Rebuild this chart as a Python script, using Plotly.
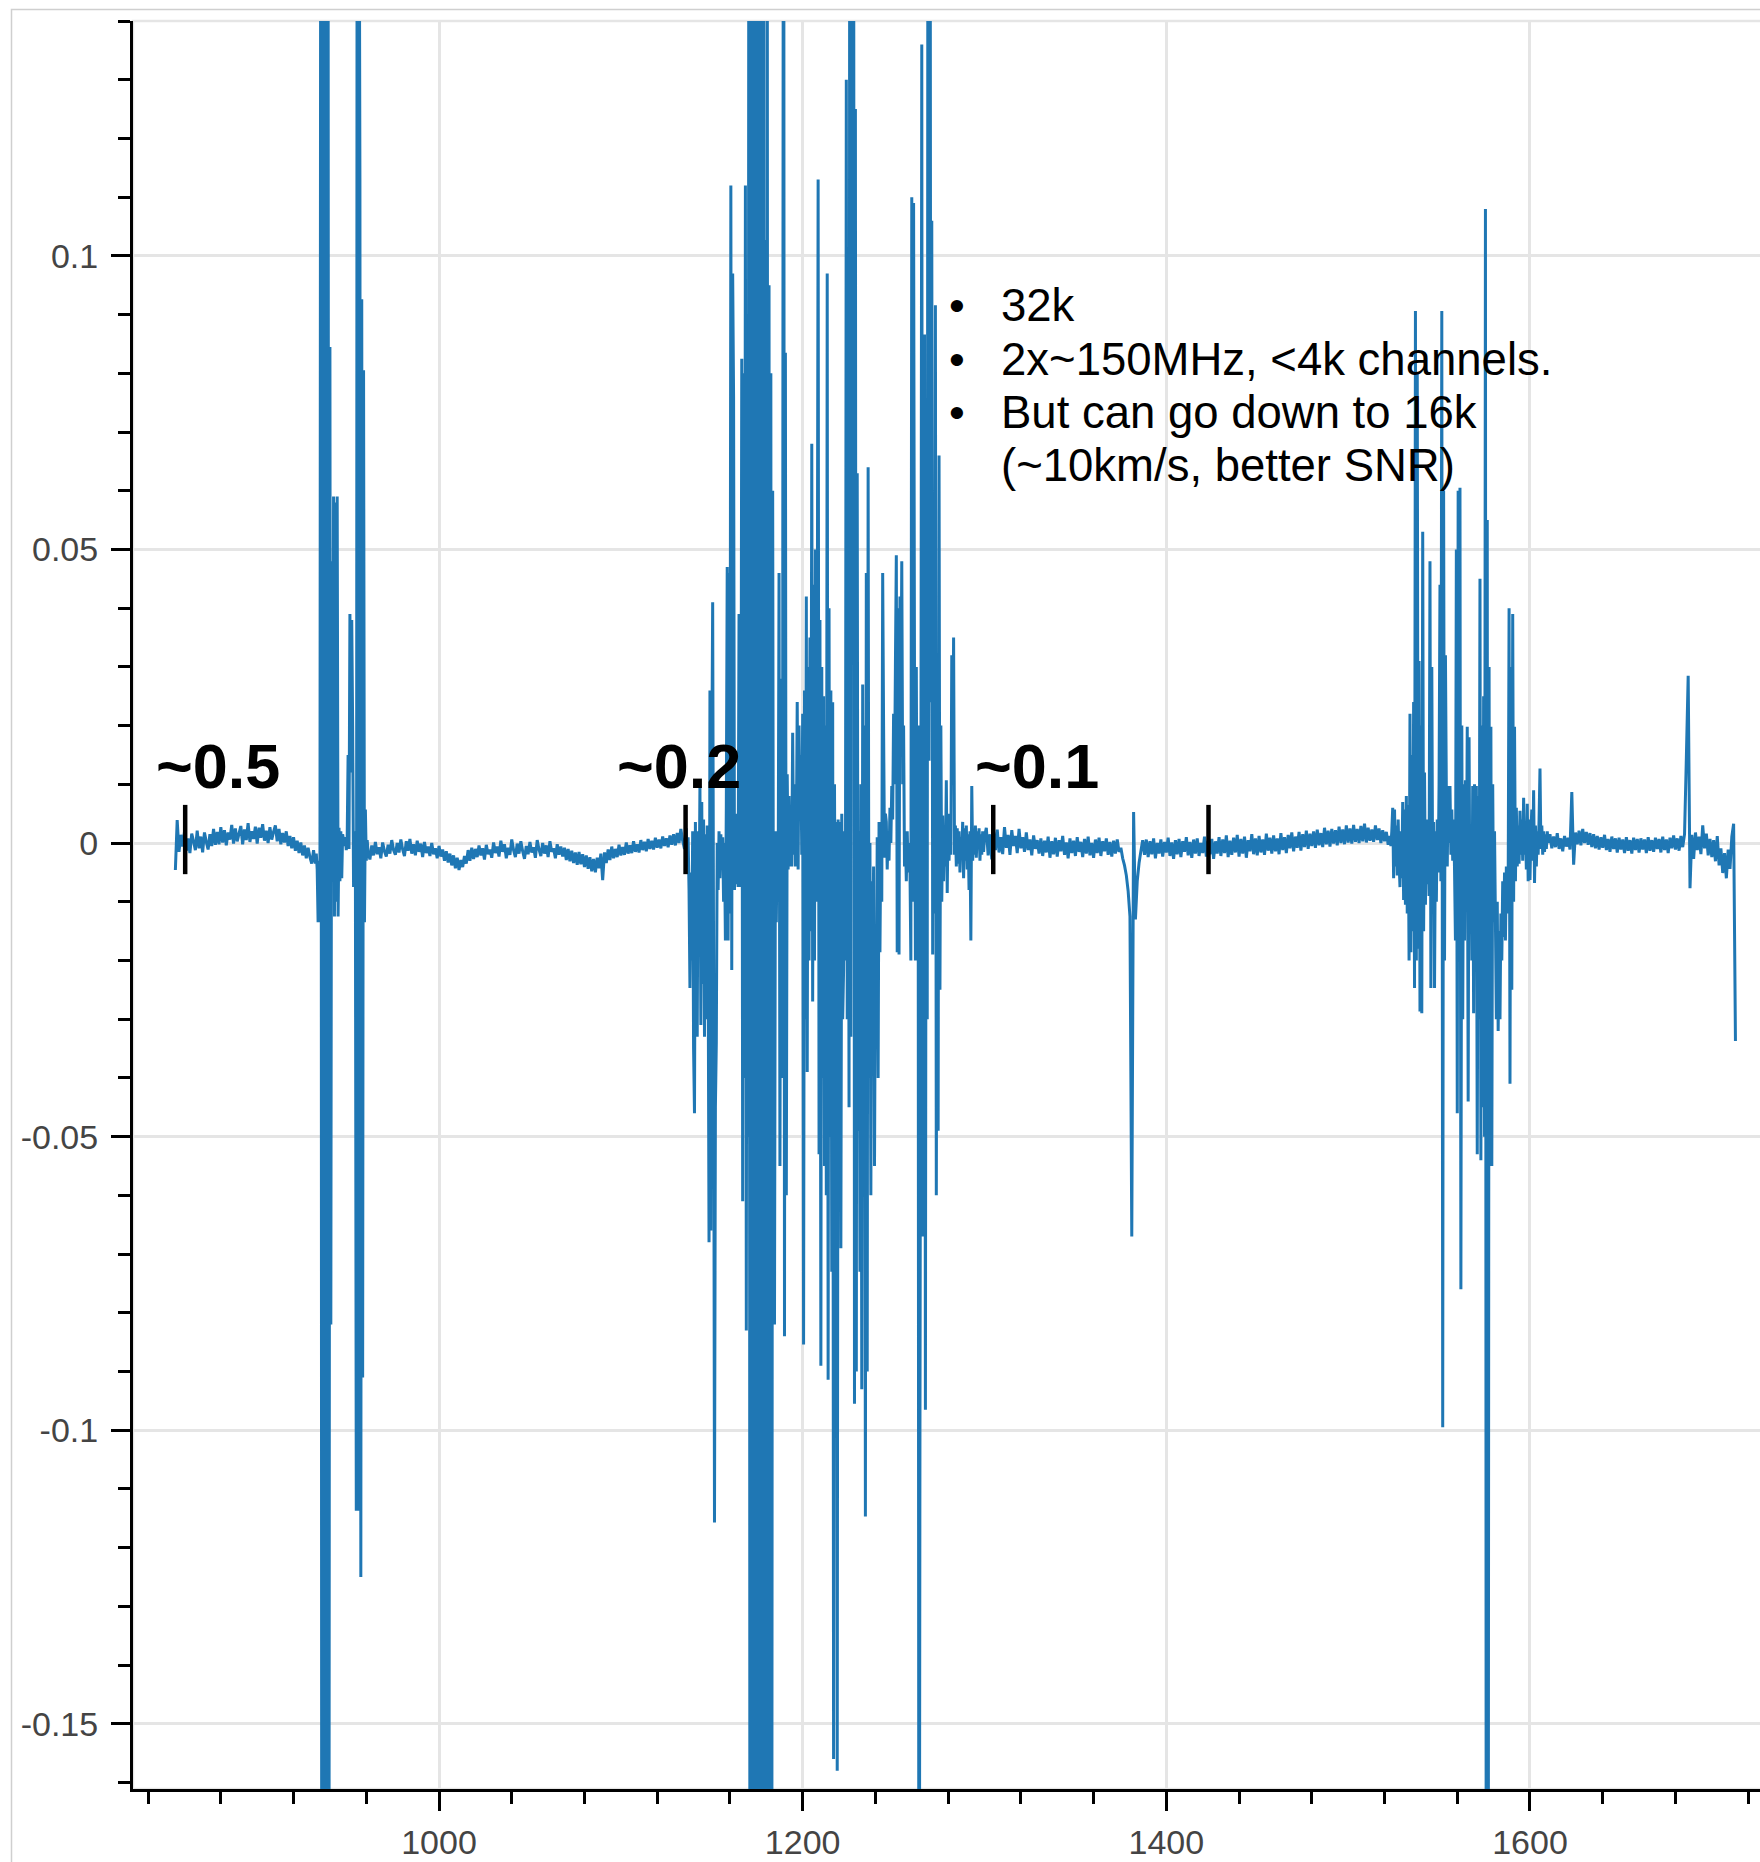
import numpy as np
import plotly.graph_objects as go

# ---------------------------------------------------------------------------
# Spectrum: flux per channel, stored in segments (start channel, channel step)
# ---------------------------------------------------------------------------
seg_a_start, seg_a_step = 855.0, 1.0
flux_a = [
    -0.0046, 0.0039, -0.0015, 0.0014, -0.0006, 0.0019, -0.0013, 0.0008, -0.0017, 0.0016,
    0.0003, -0.0012, 0.0021, -0.0009, 0.0011, -0.0016, 0.0018, 0.0002, -0.0011, 0.0015,
    -0.0005, 0.0024, -0.0003, 0.0019, -0.0002, 0.0027, 0.0001, 0.0022, -0.0004, 0.0018,
    0.0006, 0.0031, -0.0001, 0.0025, 0.0003, 0.0016, 0.0029, -0.0002, 0.0023, 0.0005,
    0.0034, 0.0002, 0.0020, 0.0007, 0.0028, -0.0001, 0.0026, 0.0009, 0.0032, 0.0004,
    0.0021, 0.0000, 0.0027, 0.0006, 0.0019, 0.0030, 0.0003, 0.0024, -0.0002, 0.0017,
    0.0001, 0.0020, -0.0005, 0.0012, -0.0009, 0.0010, -0.0013, 0.0004, -0.0017, 0.0001,
    -0.0021, -0.0004, -0.0026, -0.0008, -0.0024, -0.0035, -0.0012,
]

seg_b_start, seg_b_step = 931.5, 0.5
flux_b = [
    -0.0025, -0.0035, -0.0018, -0.0045, -0.0135, -0.0030, -0.0135, 0.20, -0.20, 0.22,
    -0.21, 0.19, -0.18, 0.20, -0.20, 0.17, -0.19, 0.0845, -0.082, 0.048,
    -0.0065, 0.059, -0.0125, 0.058, -0.010, 0.059, -0.0125, 0.0026, -0.0065, 0.002,
    -0.006, 0.0015, 0.0005, -0.0005, 0.001, -0.0012, 0.0008, 0.015, -0.001, 0.039,
    0.012, 0.038, 0.02, -0.0075, 0.002, -0.001, -0.1137, 0.20, -0.1137, 0.18,
    0.113, -0.125, 0.0926, -0.091, 0.0805, -0.0135, 0.0057, -0.003, 0.0005, -0.0015,
]

seg_c_start, seg_c_step = 962.0, 1.0
flux_c = [
    -0.0028, -0.0004, -0.0021, 0.0002, -0.0019, -0.0007, -0.0026, 0.0001, -0.0014, -0.0023,
    -0.0003, -0.0018, 0.0005, -0.0012, -0.0020, 0.0000, -0.0016, 0.0006, -0.0011, -0.0022,
    0.0003, -0.0013, 0.0007, -0.0018, -0.0002, -0.0021, 0.0004, -0.0015, -0.0001, -0.0024,
    0.0002, -0.0017, -0.0006, -0.0022, 0.0000, -0.0019, -0.0009, -0.0026, -0.0005, -0.0023,
    -0.0011, -0.0030, -0.0014, -0.0033, -0.0018, -0.0038, -0.0021, -0.0043, -0.0025, -0.0046,
    -0.0029, -0.0041, -0.0022, -0.0035, -0.0012, -0.0030, -0.0008, -0.0027, -0.0010, -0.0024,
    -0.0004, -0.0021, -0.0009, -0.0028, -0.0003, -0.0019, -0.0011, -0.0025, 0.0001, -0.0017,
    -0.0006, -0.0023, 0.0004, -0.0015, -0.0002, -0.0026, -0.0008, -0.0020, 0.0006, -0.0012,
    -0.0024, -0.0001, -0.0018, 0.0003, -0.0014, -0.0027, -0.0005, -0.0019, 0.0002, -0.0016,
    -0.0007, -0.0025, 0.0005, -0.0011, -0.0022, 0.0000, -0.0018, -0.0004, -0.0024, 0.0003,
    -0.0015, -0.0009, -0.0026, -0.0002, -0.0020, -0.0006, -0.0023, -0.0008, -0.0029, -0.0010,
    -0.0031, -0.0013, -0.0034, -0.0016, -0.0037, -0.0015, -0.0036, -0.0019, -0.0041, -0.0021,
    -0.0044, -0.0024, -0.0048, -0.0027, -0.0050, -0.0025, -0.0043, -0.0018, -0.0063, -0.0016,
    -0.0034, -0.0011, -0.0029, -0.0006, -0.0026, -0.0010, -0.0024, -0.0003, -0.0021, -0.0007,
    -0.0020, 0.0001, -0.0018, -0.0004, -0.0017, 0.0003, -0.0015, -0.0002, -0.0016, 0.0005,
    -0.0012, 0.0002, -0.0014, 0.0007, -0.0010, 0.0004, -0.0011, 0.0009, -0.0008, 0.0006,
    -0.0009, 0.0011, -0.0005, 0.0008, -0.0007, 0.0013, -0.0003, 0.0015, -0.0004, 0.0017,
    0.0000, 0.0024, 0.0004, -0.0010,
]

seg_d_start, seg_d_step = 1136.0, 0.5
flux_d = [
    0.0025, -0.004, 0.001, -0.008, -0.0247, -0.005, -0.02, 0.002, -0.035, -0.046,
    0.0036, -0.028, -0.033, 0.002, -0.012, 0.0097, -0.031, 0.007, -0.024, 0.004,
    -0.033, 0.0015, -0.030, 0.003, -0.018, -0.068, 0.026, -0.066, 0.012, 0.041,
    -0.02, -0.1157, -0.045, -0.034, 0.0, -0.008, 0.002, -0.006, 0.0015, -0.004,
    0.001, -0.01, 0.0, -0.0166, 0.006, 0.047, -0.0166, 0.046, -0.012, 0.112,
    -0.0216, 0.097, 0.076, -0.008, 0.004, -0.007, 0.005, -0.0075, 0.039, 0.014,
    -0.0075, 0.0825, -0.061, 0.08, -0.04, 0.112, -0.083, 0.09, -0.05, 0.25,
    -0.22, 0.22, -0.25, 0.2, -0.21, 0.24, -0.2, 0.25, -0.23, 0.21,
    -0.24, 0.22, -0.2, 0.23, -0.25, 0.2, -0.2, 0.1027, -0.22, 0.19,
    -0.2, 0.095, -0.24, 0.08, -0.21, 0.06, -0.041, -0.082, 0.002, -0.0135,
    0.0016, -0.01, 0.046, -0.055, 0.028, -0.04, 0.02, 0.25, -0.084, 0.0835,
    -0.06, 0.0117, -0.0045, 0.008, -0.004, 0.002, -0.004, 0.0188, -0.002, 0.01,
    -0.004, 0.0, 0.024, -0.0045, 0.02, 0.004, 0.015, -0.002, 0.022, -0.0854,
    0.026, -0.03, 0.042, -0.039, 0.03, -0.02, 0.035, -0.015, 0.068, -0.027,
    0.044, -0.02, 0.05, -0.01, 0.026, 0.113, -0.053, 0.038, -0.089, 0.03,
    -0.04, 0.025, -0.055, 0.02, -0.06, 0.097, -0.0914, 0.04, -0.05, 0.026,
    -0.073, 0.024, -0.156, 0.01, -0.03, 0.0036, -0.158, 0.004, -0.04, 0.0036,
    -0.069, 0.005, -0.03, -0.0216, 0.002, -0.02, 0.13, -0.03, 0.05, -0.045,
    0.25, -0.033, 0.22, 0.052, 0.2, -0.0955, 0.125, -0.09, 0.063, -0.049,
    0.002, -0.073, 0.01, -0.093, 0.027, -0.05, 0.02, -0.1147, 0.046, -0.09,
    0.064, -0.04, 0.0, -0.06, -0.0065, -0.02, -0.004, -0.055, -0.0186, -0.03,
    0.001, -0.04, 0.0036, -0.0186, 0.002, -0.01, 0.046, 0.02, -0.0025, 0.005,
    0.0036, -0.0045, 0.002, -0.003, 0.006, 0.0, 0.0097, 0.004, 0.022, 0.01,
    0.03, 0.049, -0.0186, 0.04, -0.019, 0.042, 0.02, 0.048, 0.01, 0.02,
    -0.004, 0.001, -0.0065, 0.002, -0.005, 0.0, -0.004, -0.02, 0.11, -0.01,
    0.109, 0.028, -0.02, 0.03, -0.015, 0.02, -0.25, -0.1, 0.0, 0.136,
    -0.067, 0.014, 0.0866, -0.0965, 0.06, -0.03, 0.25, 0.014, 0.22, 0.024,
    0.106, -0.019, 0.05, -0.012, 0.0916, -0.06, 0.03, -0.049, 0.066, -0.025,
    0.02, -0.01, 0.0047, -0.0065, 0.0016, -0.004, 0.0107, -0.0085, 0.005, -0.003,
    0.004, -0.002, 0.032, 0.01, 0.035, -0.002, 0.003, -0.004, 0.0025, -0.0035,
    0.002, -0.005, 0.001, -0.002, 0.0036, -0.006, 0.0025, -0.003, 0.003, -0.0045,
    0.0015, -0.008, 0.002, -0.0166, 0.0097, -0.003, 0.002, -0.002, 0.003, -0.0025,
    0.002, -0.001, 0.0025, -0.003, 0.0015, -0.002, 0.002, -0.0015, 0.001,
]

seg_e_start, seg_e_step = 1301.0, 1.0
flux_e = [
    0.0026, -0.0021, 0.0015, -0.0028, 0.0019, -0.0012, 0.0023, -0.0016, 0.0010, -0.0019,
    0.0027, -0.0008, 0.0014, -0.0020, 0.0022, -0.0005, 0.0012, -0.0017, 0.0024, -0.0009,
    0.0010, -0.0015, 0.0018, -0.0012, 0.0006, -0.0021, 0.0013, -0.0010, 0.0005, -0.0018,
    0.0008, -0.0022, 0.0004, -0.0016, 0.0011, -0.0025, 0.0003, -0.0019, 0.0009, -0.0023,
    0.0005, -0.0014, 0.0012, -0.0020, 0.0001, -0.0026, 0.0008, -0.0017, 0.0004, -0.0022,
    0.0010, -0.0015, 0.0002, -0.0024, 0.0007, -0.0018, 0.0011, -0.0021, 0.0000, -0.0025,
    0.0006, -0.0017, 0.0009, -0.0022, 0.0003, -0.0014, 0.0008, -0.0020, 0.0002, -0.0023,
    0.0004, -0.0018, 0.0006, -0.0015, -0.0008, -0.0026, -0.0038, -0.0055, -0.0082, -0.0125,
    -0.0670, 0.0053, -0.0130, -0.0065, -0.0034, -0.0014, 0.0005, -0.0020, 0.0006, -0.0024,
    0.0003, -0.0019, 0.0008, -0.0026, 0.0000, -0.0018, 0.0006, -0.0023, 0.0002, -0.0016,
    0.0009, -0.0022, 0.0001, -0.0027, 0.0005, -0.0019, 0.0007, -0.0024, 0.0003, -0.0015,
    0.0010, -0.0021, 0.0002, -0.0025, 0.0006, -0.0018, 0.0008, -0.0022, 0.0000, -0.0017,
    0.0011, -0.0023, 0.0004, -0.0019, 0.0007, -0.0027, 0.0003, -0.0018, 0.0010, -0.0022,
    0.0006, -0.0017, 0.0013, -0.0024, 0.0004, -0.0020, 0.0009, -0.0016, 0.0014, -0.0023,
    0.0007, -0.0018, 0.0011, -0.0025, 0.0005, -0.0014, 0.0015, -0.0019, 0.0008, -0.0021,
    0.0012, -0.0016, 0.0006, -0.0020, 0.0016, -0.0013, 0.0009, -0.0018, 0.0013, -0.0014,
    0.0008, -0.0019, 0.0017, -0.0012, 0.0010, -0.0017, 0.0014, -0.0009, 0.0018, -0.0014,
    0.0011, -0.0008, 0.0019, -0.0013, 0.0015, -0.0007, 0.0021, -0.0010, 0.0016, -0.0005,
    0.0020, -0.0008, 0.0023, -0.0004, 0.0017, -0.0007, 0.0026, -0.0002, 0.0021, -0.0006,
    0.0024, -0.0001, 0.0022, -0.0004, 0.0028, 0.0000, 0.0023, -0.0002, 0.0030, 0.0001,
    0.0025, -0.0001, 0.0031, 0.0002, 0.0024, 0.0000, 0.0029, 0.0003, 0.0033, 0.0001,
    0.0026, 0.0004, 0.0023, 0.0002, 0.0030, 0.0005, 0.0025, 0.0000, 0.0022, 0.0003,
    0.0019, -0.0003,
]

seg_f_start, seg_f_step = 1523.0, 0.5
flux_f = [
    0.0012, -0.0005, 0.002, 0.006, -0.006, 0.0057, -0.004, 0.003, -0.0055, 0.004,
    -0.003, -0.0075, 0.002, -0.006, 0.007, -0.0097, 0.0057, -0.0105, 0.008, -0.012,
    0.0065, -0.02, 0.022, -0.0186, 0.015, -0.015, 0.024, -0.0247, 0.0906, -0.02,
    0.08, -0.018, 0.031, -0.0287, 0.02, -0.029, 0.053, -0.015, 0.012, -0.0105,
    0.004, -0.007, 0.002, -0.009, 0.048, -0.0247, 0.03, -0.01, 0.0036, -0.0247,
    0.002, -0.01, 0.004, -0.005, 0.01, 0.044, -0.0065, 0.0906, -0.0995, 0.06,
    -0.02, 0.032, 0.0087, -0.004, 0.0097, 0.0, 0.0097, -0.002, 0.0057, -0.003,
    0.004, -0.0045, -0.0166, 0.05, -0.046, 0.06, -0.02, 0.0605, -0.076, 0.02,
    -0.03, 0.01, -0.0166, 0.0107, -0.01, 0.0198, -0.044, 0.018, -0.015, 0.002,
    -0.02, 0.0097, -0.029, 0.01, -0.02, 0.0097, -0.053, 0.008, -0.03, 0.045,
    -0.054, 0.02, -0.045, 0.025, -0.05, 0.108, -0.25, 0.055, -0.22, 0.03,
    -0.055, 0.0198, -0.055, 0.01, -0.0135, 0.002, -0.0135, -0.03, -0.01, -0.032,
    -0.015, -0.03, -0.012, -0.02, -0.0065, -0.016, -0.005, -0.0166, -0.004, -0.012,
    -0.008, 0.040, -0.041, 0.03, -0.025, 0.039, -0.01, 0.0198, -0.0065, 0.006,
    -0.004, 0.003, -0.0035, 0.0055, -0.002, 0.004, -0.003, 0.0077, -0.002, 0.003,
    -0.0045, 0.0067, -0.0065, 0.004, -0.0063, 0.002, 0.0057, -0.003, 0.009, -0.0068,
    0.003, -0.004, 0.002, -0.002, 0.004, 0.0127, -0.001, 0.003, -0.002, 0.002,
    -0.0015, 0.0015, -0.001, 0.002, 0.0,
]

seg_g_start, seg_g_step = 1611.0, 1.0
flux_g = [
    0.0015, -0.0009, 0.0011, -0.0007, 0.0017, -0.0010, 0.0008, -0.0014, 0.0012, -0.0006,
    0.0009, -0.0011, 0.0087, -0.0037, 0.0018, -0.0002, 0.0021, -0.0004, 0.0024, 0.0000,
    0.0019, -0.0003, 0.0017, -0.0007, 0.0015, -0.0009, 0.0012, -0.0011, 0.0010, -0.0008,
    0.0014, -0.0012, 0.0007, -0.0015, 0.0011, -0.0010, 0.0008, -0.0016, 0.0009, -0.0011,
    0.0006, -0.0017, 0.0010, -0.0013, 0.0005, -0.0018, 0.0009, -0.0012, 0.0007, -0.0016,
    0.0008, -0.0011, 0.0006, -0.0017, 0.0010, -0.0013, 0.0005, -0.0015, 0.0009, -0.0010,
    0.0007, -0.0016, 0.0011, -0.0012, 0.0006, -0.0017, 0.0009, -0.0009, 0.0013, -0.0011,
    0.0008, -0.0013, 0.0012, -0.0007, 0.0015, 0.0145, 0.0285, -0.0077, 0.0014, -0.0027,
    0.0018, -0.0012, 0.0011, -0.0019, 0.0030, -0.0009, 0.0016, -0.0021, 0.0007, -0.0024,
    0.0005, -0.0031, 0.0012, -0.0038, -0.0009, -0.0051, -0.0017, -0.0060, -0.0011, -0.0044,
    0.0011, 0.0033, -0.0337,
]

# Axis ticks
x_tick_vals = [1000, 1200, 1400, 1600]
x_tick_text = ["1000", "1200", "1400", "1600"]
y_tick_vals = [0.1, 0.05, 0.0, -0.05, -0.1, -0.15]
y_tick_text = ["0.1", "0.05", "0", "-0.05", "-0.1", "-0.15"]

# Channel-width markers and their labels
marker_x = [860.4, 1135.6, 1304.8, 1423.2]
marker_lo, marker_hi = -0.0053, 0.0065
label_text = ["~0.5", "~0.2", "~0.1"]
label_x = [878.5, 1132.0, 1329.1]
label_y = 0.0132

# Bullet notes
note_lines = ["32k", "2x~150MHz, <4k channels.", "But can go down to 16k", "(~10km/s, better SNR)"]
note_bullet = [True, True, True, False]

# ---------------------------------------------------------------------------
segments = [
    (seg_a_start, seg_a_step, flux_a),
    (seg_b_start, seg_b_step, flux_b),
    (seg_c_start, seg_c_step, flux_c),
    (seg_d_start, seg_d_step, flux_d),
    (seg_e_start, seg_e_step, flux_e),
    (seg_f_start, seg_f_step, flux_f),
    (seg_g_start, seg_g_step, flux_g),
]
chan, flux = [], []
for start, step, vals in segments:
    chan.extend((start + step * np.arange(len(vals))).tolist())
    flux.extend(vals)

FONT = "Liberation Sans, Arial, Helvetica, sans-serif"
FIG_W, FIG_H = 1760, 1862
M_L, M_R, M_T, M_B = 133, 0, 21, 73
PLOT_W = FIG_W - M_L - M_R
PLOT_H = FIG_H - M_T - M_B


def paper_x(px):
    return (px - M_L) / PLOT_W


def paper_y(py):
    return (FIG_H - M_B - py) / PLOT_H


fig = go.Figure()
fig.add_trace(go.Scatter(
    x=chan, y=flux, mode="lines",
    line=dict(color="#1f77b4", width=3, simplify=False),
    hoverinfo="skip",
))

shapes = []
# plot outline
shapes.append(dict(type="rect", xref="paper", yref="paper", x0=0, x1=1.01, y0=0, y1=1,
                   line=dict(color="#e5e5e5", width=2.5), layer="below"))
# outer frame (left and top edges)
shapes.append(dict(type="path", xref="paper", yref="paper",
                   path=f"M {paper_x(11.5)} {paper_y(FIG_H + 20)} L {paper_x(11.5)} {paper_y(9.5)} "
                        f"L {paper_x(FIG_W + 20)} {paper_y(9.5)}",
                   line=dict(color="#cfcfcf", width=1.5), layer="above"))
for mx in marker_x:
    shapes.append(dict(type="line", xref="x", yref="y", x0=mx, x1=mx, y0=marker_lo, y1=marker_hi,
                       line=dict(color="black", width=4.5), layer="above"))

annotations = []
for t, lx in zip(label_text, label_x):
    annotations.append(dict(text=f"<b>{t}</b>", x=lx, y=label_y, xref="x", yref="y",
                            showarrow=False, xanchor="center", yanchor="middle",
                            font=dict(family=FONT, size=63, color="black")))

line_y0, line_step = 306, 53
for i, (line, has_bullet) in enumerate(zip(note_lines, note_bullet)):
    py = line_y0 + i * line_step
    annotations.append(dict(text=line, x=paper_x(999), y=paper_y(py), xref="paper", yref="paper",
                            showarrow=False, xanchor="left", yanchor="middle",
                            font=dict(family=FONT, size=45.5, color="black")))
    if has_bullet:
        annotations.append(dict(text="\u2022", x=paper_x(957), y=paper_y(py), xref="paper", yref="paper",
                                showarrow=False, xanchor="center", yanchor="middle",
                                font=dict(family=FONT, size=45, color="black")))

fig.update_layout(
    width=FIG_W, height=FIG_H,
    margin=dict(l=M_L, r=M_R, t=M_T, b=M_B, pad=0),
    paper_bgcolor="white", plot_bgcolor="white",
    showlegend=False,
    font=dict(family=FONT, color="#444"),
    shapes=shapes, annotations=annotations,
)

common = dict(
    showline=True, linecolor="black", linewidth=3,
    ticks="outside", ticklen=19, tickwidth=3, tickcolor="black",
    showgrid=True, gridcolor="#e5e5e5", gridwidth=2.5, zeroline=False,
    tickfont=dict(family=FONT, size=34, color="#444"),
    automargin=False, fixedrange=True,
)
fig.update_xaxes(range=[831.7, 1726.5], tickmode="array", tickvals=x_tick_vals, ticktext=x_tick_text,
                 ticklabelstandoff=2,
                 minor=dict(tickmode="linear", tick0=0, dtick=40, ticks="outside", ticklen=12,
                            tickwidth=3, tickcolor="black", showgrid=False),
                 **common)
fig.update_yaxes(range=[-0.1611, 0.1400], tickmode="array", tickvals=y_tick_vals, ticktext=y_tick_text,
                 ticklabelstandoff=6,
                 minor=dict(tickmode="linear", tick0=0, dtick=0.01, ticks="outside", ticklen=12,
                            tickwidth=3, tickcolor="black", showgrid=False),
                 **common)

fig.write_html("out.html", config={"displayModeBar": False})
